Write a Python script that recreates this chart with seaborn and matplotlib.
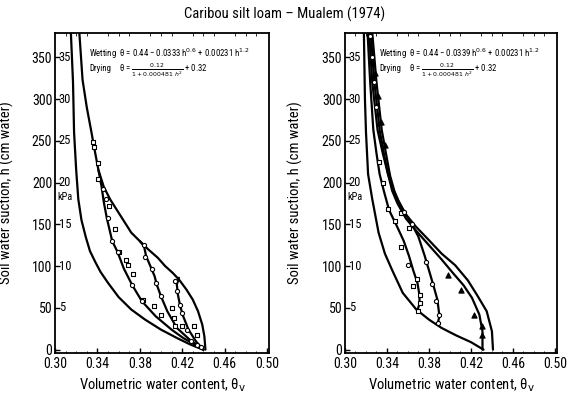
import matplotlib
matplotlib.use("Agg")
import matplotlib.pyplot as plt
import seaborn as sns
from matplotlib import font_manager as fm

# ---------------- data ----------------
title = "Caribou silt loam \u2013 Mualem (1974)"
x_ticks = [0.30, 0.34, 0.38, 0.42, 0.46, 0.50]
y_ticks = [0, 50, 100, 150, 200, 250, 300, 350]
kpa_ticks = [5, 10, 15, 20, 25, 30, 35]

# Left panel
L_dry_theta = [0.323, 0.326, 0.330, 0.334, 0.338, 0.341, 0.346, 0.352, 0.362, 0.372, 0.380,
               0.388, 0.397, 0.404, 0.411, 0.417, 0.424, 0.430, 0.435, 0.439, 0.441, 0.442]
L_dry_h = [379, 323, 290, 263, 235, 215, 195, 180, 160, 140, 130, 120, 110, 100, 92, 84, 72,
           60, 46, 30, 16, 0]
L_wet_theta = [0.315, 0.317, 0.318, 0.320, 0.322, 0.325, 0.329, 0.333, 0.338, 0.343, 0.350,
               0.360, 0.372, 0.385, 0.400, 0.415, 0.428, 0.440]
L_wet_h = [379, 320, 260, 215, 180, 155, 135, 118, 105, 93, 80, 63, 48, 36, 24, 14, 6, 0]
L_scanB_theta = [0.341, 0.344, 0.346, 0.349, 0.354, 0.359, 0.365, 0.373, 0.382, 0.395, 0.410,
                 0.421, 0.432, 0.440]
L_scanB_h = [215, 195, 177, 157, 130, 117, 97, 77, 58, 40, 24, 14, 6, 0]
L_scanC_theta = [0.380, 0.384, 0.386, 0.390, 0.394, 0.396, 0.400, 0.406, 0.415, 0.428, 0.436, 0.440]
L_scanC_h = [130, 124, 112, 100, 88, 78, 64, 46, 26, 11, 4, 0]
L_scanD_theta = [0.417, 0.415, 0.416, 0.418, 0.421, 0.426, 0.433, 0.440]
L_scanD_h = [86, 78, 66, 53, 40, 24, 10, 0]
L_circ_theta = [0.345, 0.348, 0.350, 0.354, 0.359, 0.373, 0.382, 0.384, 0.385, 0.392, 0.395,
                0.400, 0.413, 0.415, 0.418, 0.420, 0.425, 0.428, 0.434, 0.438]
L_circ_h = [192, 180, 157, 130, 117, 77, 58, 125, 111, 97, 80, 64, 82, 70, 53, 44, 24, 10, 5, 3]
L_sq_theta = [0.336, 0.337, 0.341, 0.341, 0.351, 0.357, 0.360, 0.367, 0.369, 0.374, 0.383,
              0.393, 0.400, 0.410, 0.412, 0.413, 0.420, 0.431, 0.434]
L_sq_h = [248, 242, 224, 204, 172, 145, 117, 107, 101, 91, 59, 52, 42, 50, 38, 28, 28, 28, 17]

# Right panel
R_wet_theta = [0.318, 0.319, 0.320, 0.322, 0.326, 0.332, 0.338, 0.345, 0.355, 0.368, 0.380,
               0.392, 0.406, 0.420, 0.432]
R_wet_h = [379, 300, 260, 210, 180, 140, 115, 95, 68, 48, 36, 26, 17, 9, 0]
R_dry_theta = [0.326, 0.330, 0.335, 0.339, 0.343, 0.347, 0.351, 0.358, 0.367, 0.380, 0.392,
               0.405, 0.417, 0.426, 0.435, 0.440, 0.441]
R_dry_h = [379, 320, 263, 235, 208, 190, 178, 162, 148, 131, 115, 101, 83, 65, 46, 22, 0]
R_scanT_theta = [0.431, 0.431, 0.428, 0.421, 0.413, 0.402, 0.392, 0.380, 0.368, 0.358, 0.350,
                 0.345, 0.341, 0.337, 0.333, 0.328, 0.3245]
R_scanT_h = [0, 22, 42, 62, 77, 93, 108, 125, 142, 157, 175, 190, 210, 235, 263, 320, 379]
R_scanC_theta = [0.388, 0.390, 0.389, 0.388, 0.384, 0.380, 0.376, 0.370, 0.363, 0.356, 0.348,
                 0.341, 0.336, 0.331, 0.326, 0.323]
R_scanC_h = [30, 40, 50, 60, 78, 95, 112, 135, 152, 165, 185, 210, 235, 263, 320, 379]
R_scanS_theta = [0.369, 0.371, 0.371, 0.369, 0.365, 0.361, 0.356, 0.349, 0.342, 0.337, 0.333,
                 0.330, 0.327, 0.324, 0.3215]
R_scanS_h = [47, 55, 65, 80, 95, 112, 130, 149, 167, 190, 210, 235, 263, 320, 379]
R_sq_theta = [0.341, 0.348, 0.353, 0.361, 0.353, 0.365, 0.369, 0.371, 0.371, 0.370, 0.336, 0.332]
R_sq_h = [168, 154, 164, 146, 123, 76, 85, 65, 56, 46, 200, 225]
R_circ_theta = [0.360, 0.377, 0.383, 0.387, 0.390, 0.389, 0.356, 0.364, 0.330, 0.328, 0.326, 0.3235]
R_circ_h = [101, 105, 79, 58, 42, 32, 165, 150, 290, 320, 350, 376]
R_tri_theta = [0.398, 0.411, 0.423, 0.431, 0.431, 0.338, 0.334, 0.331, 0.329]
R_tri_h = [89, 71, 42, 28, 17, 245, 272, 303, 331]

eq_wet_L = "Wetting  \u03b8 = 0.44 \u2212 0.0333 h$^{0.6}$ + 0.00231 h$^{1.2}$"
eq_wet_R = "Wetting  \u03b8 = 0.44 \u2212 0.0339 h$^{0.6}$ + 0.00231 h$^{1.2}$"
eq_dry = "\u03b8 = $\\frac{0.12}{1 + 0.000481\\ h^{2}}$ + 0.32"

# ---------------- style ----------------
sns.set_theme(style="ticks")
names = {f.name for f in fm.fontManager.ttflist}
narrow = None
for n in ["Roboto Condensed", "Liberation Sans Narrow", "Open Sans Condensed"]:
    if n in names:
        narrow = n
        break
if narrow is None:
    narrow = "DejaVu Sans"
    plt.rcParams["font.stretch"] = "condensed"
plt.rcParams["font.family"] = [narrow, "DejaVu Sans"]
plt.rcParams["mathtext.fontset"] = "dejavusans"

fig = plt.figure(figsize=(5.7, 3.96), dpi=100)
fig.patch.set_facecolor("white")
axL = fig.add_axes([55 / 570, 43 / 396, 214 / 570, 320 / 396])
axR = fig.add_axes([345 / 570, 43 / 396, 212 / 570, 320 / 396])

LW = 1.6


def line(ax, th, h):
    sns.lineplot(x=th, y=h, sort=False, estimator=None, color="black", lw=LW, ax=ax)


def pts(ax, th, h, marker, filled=False, s=9):
    sns.scatterplot(x=th, y=h, marker=marker, s=s, color="black",
                    facecolor="black" if filled else "white", edgecolor="black",
                    linewidth=0.8, ax=ax, zorder=4)


def style(ax, wet_text):
    ax.set_facecolor("white")
    ax.set_xlim(0.30, 0.502)
    ax.set_ylim(-4, 379)
    ax.set_xticks(x_ticks)
    ax.set_xticklabels([f"{v:.2f}" for v in x_ticks])
    ax.set_yticks(y_ticks)
    ax.set_xticks([0.30 + 0.01 * i for i in range(21)], minor=True)
    ax.tick_params(axis="both", which="major", direction="in", length=3.5, width=1.0,
                   labelsize=10, colors="black", pad=3)
    ax.tick_params(axis="x", which="minor", direction="in", length=1.8, width=0.7,
                   top=True, bottom=True)
    ax.tick_params(axis="y", which="major", pad=2)
    for sp in ax.spines.values():
        sp.set_visible(True)
        sp.set_color("black")
        sp.set_linewidth(1.3)
    ax.set_xlabel("Volumetric water content, \u03b8$_\\mathrm{v}$", fontsize=10.5,
                  color="black")
    ax.set_ylabel("Soil water suction, h (cm water)", fontsize=10.5, color="black")
    ax.xaxis.set_label_coords(0.5, -0.072)
    ax.yaxis.set_label_coords(-0.19, 0.5)
    tr = ax.get_yaxis_transform()
    for k in kpa_ticks:
        ax.text(0.018, k * 10, str(k), transform=tr, ha="left", va="center",
                fontsize=9, color="black")
    ax.text(0.012, 183, "kPa", transform=tr, ha="left", va="center", fontsize=7.5,
            color="black")
    ax.text(0.16, 0.935, wet_text, transform=ax.transAxes, ha="left", va="center",
            fontsize=6.3, color="black")
    ax.text(0.16, 0.89, "Drying", transform=ax.transAxes, ha="left", va="center",
            fontsize=6.3, color="black")
    ax.text(0.30, 0.885, eq_dry, transform=ax.transAxes, ha="left", va="center",
            fontsize=6.3, color="black")


# left panel
for th, h in [(L_wet_theta, L_wet_h), (L_dry_theta, L_dry_h), (L_scanB_theta, L_scanB_h),
              (L_scanC_theta, L_scanC_h), (L_scanD_theta, L_scanD_h)]:
    line(axL, th, h)
pts(axL, L_sq_theta, L_sq_h, "s")
pts(axL, L_circ_theta, L_circ_h, "o")
style(axL, eq_wet_L)

# right panel
for th, h in [(R_wet_theta, R_wet_h), (R_dry_theta, R_dry_h), (R_scanT_theta, R_scanT_h),
              (R_scanC_theta, R_scanC_h), (R_scanS_theta, R_scanS_h)]:
    line(axR, th, h)
pts(axR, R_sq_theta, R_sq_h, "s")
pts(axR, R_circ_theta, R_circ_h, "o")
pts(axR, R_tri_theta, R_tri_h, "^", filled=True, s=14)
style(axR, eq_wet_R)
axR.yaxis.set_label_coords(-0.197, 0.5)

fig.text(0.5, 0.963, title, ha="center", va="center", fontsize=10.5, color="black")

fig.savefig("out.png", dpi=100, facecolor="white")
